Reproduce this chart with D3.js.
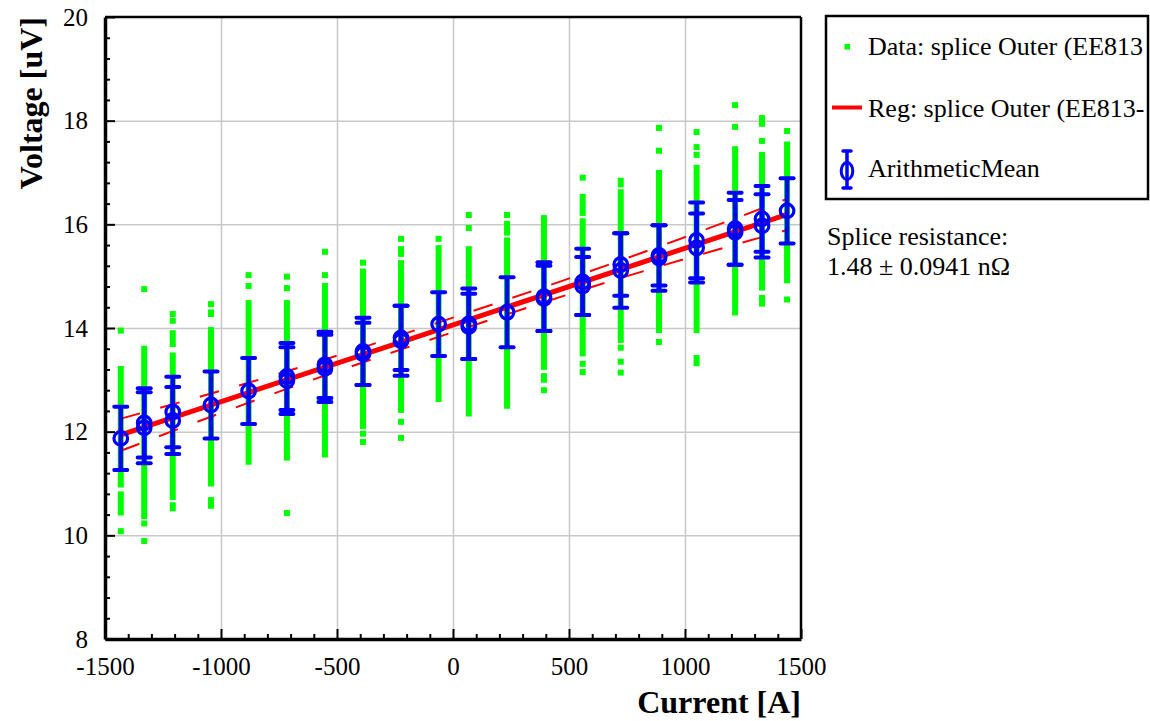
<!DOCTYPE html>
<html>
<head>
<meta charset="utf-8">
<script src="https://d3js.org/d3.v7.min.js"></script>
<style>
  body { margin: 0; background: #fff; }
  svg { display: block; }
  svg text { font-family: "Liberation Serif", "Times New Roman", Times, serif; }
</style>
</head>
<body>
<svg id="chart" width="1150" height="721"></svg>
<script>
// current setpoints of the green data columns [A]
const currents = [-1432, -1331, -1208, -1043, -881, -716, -552, -388, -224, -62,
                  68, 233, 392, 559, 723, 888, 1050, 1216, 1332, 1440];

// green data: runs of stacked points per column, [top, bottom] in uV
const greenRuns = [
  [[13.95, 13.95], [13.21, 10.98], [10.79, 10.44], [10.08, 10.08]],
  [[14.75, 14.75], [13.60, 10.37], [10.23, 10.23], [9.89, 9.89]],
  [[14.27, 14.27], [14.14, 14.14], [13.90, 13.69], [13.47, 10.74], [10.58, 10.52]],
  [[14.46, 14.46], [14.30, 14.27], [13.96, 11.00], [10.68, 10.57]],
  [[15.02, 15.02], [14.81, 14.81], [14.48, 11.42]],
  [[14.99, 14.99], [14.77, 14.77], [14.48, 11.50], [10.43, 10.43]],
  [[15.47, 15.47], [15.02, 15.02], [14.81, 11.56]],
  [[15.26, 15.26], [15.09, 12.11], [11.96, 11.96], [11.80, 11.80]],
  [[15.72, 15.72], [15.52, 15.43], [15.25, 12.42], [12.19, 12.19], [11.88, 11.88]],
  [[15.72, 15.72], [15.54, 12.63]],
  [[16.18, 16.18], [15.93, 15.93], [15.52, 12.35]],
  [[16.18, 16.18], [16.01, 15.84], [15.69, 12.50]],
  [[16.12, 13.25], [13.07, 13.00], [12.80, 12.80]],
  [[16.90, 16.90], [16.53, 16.22], [16.06, 13.51], [13.31, 13.31], [13.15, 13.15]],
  [[16.84, 16.77], [16.62, 13.77], [13.62, 13.62], [13.35, 13.35], [13.14, 13.14]],
  [[17.86, 17.86], [17.42, 17.42], [16.99, 13.96], [13.73, 13.73]],
  [[17.78, 17.78], [17.49, 17.49], [17.34, 17.34], [17.09, 13.96], [13.42, 13.32]],
  [[18.30, 18.30], [17.88, 17.88], [17.45, 14.30]],
  [[18.05, 17.94], [17.61, 17.61], [17.34, 14.78], [14.58, 14.47]],
  [[17.80, 17.80], [17.54, 14.92], [14.55, 14.55]]
];

// arithmetic means with error
const meanCurrent = [-1432, -1331, -1331, -1208, -1208, -1043, -881, -716, -716, -552,
                     -552, -388, -388, -224, -224, -62, 68, 68, 233, 392,
                     392, 559, 559, 723, 723, 888, 888, 1050, 1050, 1216,
                     1216, 1332, 1332, 1440];
const meanVoltage = [11.87, 12.17, 12.075, 12.38, 12.215, 12.515, 12.785, 13.065, 12.985, 13.29,
                     13.22, 13.55, 13.50, 13.81, 13.755, 14.075, 14.08, 14.03, 14.305, 14.605,
                     14.57, 14.89, 14.81, 15.225, 15.11, 15.40, 15.35, 15.69, 15.545, 15.915,
                     15.845, 16.105, 15.97, 16.26];
const meanError = [0.61, 0.67, 0.685, 0.68, 0.645, 0.645, 0.635, 0.645, 0.645, 0.64,
                   0.65, 0.65, 0.60, 0.62, 0.675, 0.615, 0.68, 0.63, 0.675, 0.665,
                   0.63, 0.64, 0.56, 0.605, 0.72, 0.58, 0.63, 0.73, 0.665, 0.695,
                   0.625, 0.635, 0.61, 0.63];

// regression line and its band
const regCurrent = [-1432, 1440];
const regVoltage = [11.94, 16.19];
const bandCurrent = [-1432, -720, 0, 720, 1440];
const bandUpper = [12.25, 13.16, 14.20, 15.30, 16.49];
const bandLower = [11.63, 12.82, 13.92, 14.96, 15.89];

// axis ticks
const xMajor = [-1500, -1000, -500, 0, 500, 1000, 1500];
const yMajor = [8, 10, 12, 14, 16, 18, 20];

const svg = d3.select("#chart");

const pLeft = 105, pRight = 801, pTop = 17, pBottom = 639;

const x = d3.scaleLinear().domain([-1500, 1500]).range([pLeft, pRight]);
const y = d3.scaleLinear().domain([8, 20]).range([pBottom, pTop]);

// grid
svg.append("g")
    .attr("transform", "translate(0," + pBottom + ")")
    .call(d3.axisBottom(x).tickValues(xMajor.slice(1, -1)).tickSize(-(pBottom - pTop)).tickFormat(""))
    .call(g => g.select(".domain").remove())
    .selectAll("line").attr("stroke", "#c8c8c8").attr("stroke-width", 1.5);

svg.append("g")
    .attr("transform", "translate(" + pLeft + ",0)")
    .call(d3.axisLeft(y).tickValues(yMajor.slice(1, -1)).tickSize(-(pRight - pLeft)).tickFormat(""))
    .call(g => g.select(".domain").remove())
    .selectAll("line").attr("stroke", "#c8c8c8").attr("stroke-width", 1.5);

// green data
const dataG = svg.append("g");
currents.forEach((c, i) => {
    dataG.selectAll(null)
        .data(greenRuns[i])
        .enter()
        .append("rect")
        .attr("x", x(c) - 3)
        .attr("y", d => y(d[0]) - 3)
        .attr("width", 6)
        .attr("height", d => y(d[1]) - y(d[0]) + 6)
        .attr("fill", "#00ff00");
});

// regression
const regLine = d3.line().x((d, i) => x(regCurrent[i])).y(d => y(d));
svg.append("path")
    .attr("d", regLine(regVoltage))
    .attr("stroke", "#ff0000")
    .attr("stroke-width", 5)
    .attr("fill", "none");

const bandLine = d3.line()
    .x((d, i) => x(bandCurrent[i]))
    .y(d => y(d))
    .curve(d3.curveNatural);

[bandUpper, bandLower].forEach(b => {
    svg.append("path")
        .attr("d", bandLine(b))
        .attr("stroke", "#ff0000")
        .attr("stroke-width", 2)
        .attr("stroke-dasharray", "20,21")
        .attr("fill", "none");
});

// means
const blue = "#0000ff";
const meanG = svg.append("g")
    .selectAll("g")
    .data(meanVoltage)
    .enter()
    .append("g")
    .attr("transform", (d, i) => "translate(" + x(meanCurrent[i]) + ",0)");

meanG.append("line")
    .attr("y1", (d, i) => y(d + meanError[i]))
    .attr("y2", (d, i) => y(d - meanError[i]))
    .attr("stroke", blue).attr("stroke-width", 4.5);

meanG.append("line")
    .attr("x1", -6.5).attr("x2", 6.5)
    .attr("y1", (d, i) => y(d + meanError[i]))
    .attr("y2", (d, i) => y(d + meanError[i]))
    .attr("stroke", blue).attr("stroke-width", 4).attr("stroke-linecap", "round");

meanG.append("line")
    .attr("x1", -6.5).attr("x2", 6.5)
    .attr("y1", (d, i) => y(d - meanError[i]))
    .attr("y2", (d, i) => y(d - meanError[i]))
    .attr("stroke", blue).attr("stroke-width", 4).attr("stroke-linecap", "round");

meanG.append("circle")
    .attr("cy", d => y(d))
    .attr("r", 6.8)
    .attr("fill", "none")
    .attr("stroke", blue).attr("stroke-width", 3.2);

// axes
const xMinor = d3.range(-1400, 1500, 100).filter(v => v % 500 !== 0);
const yMinor = d3.range(8.4, 20, 0.4).filter(v => Math.abs(v / 2 - Math.round(v / 2)) > 0.01);

svg.append("g")
    .attr("transform", "translate(0," + pBottom + ")")
    .call(d3.axisBottom(x).tickValues(xMinor).tickSize(-5).tickSizeOuter(0).tickFormat(""))
    .call(g => g.select(".domain").remove())
    .selectAll("line").attr("stroke", "#000").attr("stroke-width", 2);

svg.append("g")
    .attr("transform", "translate(" + pLeft + ",0)")
    .call(d3.axisLeft(y).tickValues(yMinor).tickSize(-5).tickSizeOuter(0).tickFormat(""))
    .call(g => g.select(".domain").remove())
    .selectAll("line").attr("stroke", "#000").attr("stroke-width", 2);

const xAxis = svg.append("g")
    .attr("transform", "translate(0," + pBottom + ")")
    .call(d3.axisBottom(x).tickValues(xMajor).tickSize(-10).tickSizeOuter(0)
        .tickPadding(18).tickFormat(d => String(d)))
    .attr("font-family", null).attr("font-size", 25);
xAxis.select(".domain").attr("stroke-width", 3.5);
xAxis.selectAll("line").attr("stroke-width", 2);
xAxis.selectAll("text").attr("fill", "#000");

const yAxis = svg.append("g")
    .attr("transform", "translate(" + pLeft + ",0)")
    .call(d3.axisLeft(y).tickValues(yMajor).tickSize(-10).tickSizeOuter(0)
        .tickPadding(17).tickFormat(d => String(d)))
    .attr("font-family", null).attr("font-size", 25);
yAxis.select(".domain").attr("stroke-width", 3.5);
yAxis.selectAll("line").attr("stroke-width", 2);
yAxis.selectAll("text").attr("fill", "#000");

// frame top and right
svg.append("line").attr("x1", pLeft).attr("x2", pRight).attr("y1", pTop).attr("y2", pTop)
    .attr("stroke", "#000").attr("stroke-width", 2.5);
svg.append("line").attr("x1", pRight).attr("x2", pRight).attr("y1", pTop).attr("y2", pBottom)
    .attr("stroke", "#000").attr("stroke-width", 2.5);

// axis titles
svg.append("text")
    .attr("x", pRight).attr("y", 713)
    .attr("text-anchor", "end")
    .attr("font-size", 32).attr("font-weight", "bold")
    .text("Current [A]");

svg.append("text")
    .attr("transform", "translate(42," + pTop + ") rotate(-90)")
    .attr("text-anchor", "end")
    .attr("font-size", 32).attr("font-weight", "bold")
    .text("Voltage [uV]");

// legend
svg.append("rect")
    .attr("x", 826).attr("y", 16).attr("width", 322).attr("height", 183)
    .attr("fill", "#fff").attr("stroke", "#000").attr("stroke-width", 2.5);

const leg = svg.append("g");

leg.append("rect").attr("x", 844.5).attr("y", 44).attr("width", 5.5).attr("height", 5.5).attr("fill", "#00ff00");
leg.append("text").attr("x", 868).attr("y", 55).attr("font-size", 26).text("Data: splice Outer (EE813");

leg.append("line").attr("x1", 832).attr("x2", 862).attr("y1", 107.5).attr("y2", 107.5)
    .attr("stroke", "#ff0000").attr("stroke-width", 4);
leg.append("text").attr("x", 868).attr("y", 117).attr("font-size", 26).text("Reg: splice Outer (EE813-");

leg.append("line").attr("x1", 847).attr("x2", 847).attr("y1", 151).attr("y2", 188)
    .attr("stroke", blue).attr("stroke-width", 3.5);
leg.append("line").attr("x1", 843).attr("x2", 851).attr("y1", 151).attr("y2", 151)
    .attr("stroke", blue).attr("stroke-width", 3.5).attr("stroke-linecap", "round");
leg.append("line").attr("x1", 843).attr("x2", 851).attr("y1", 188).attr("y2", 188)
    .attr("stroke", blue).attr("stroke-width", 3.5).attr("stroke-linecap", "round");
leg.append("ellipse").attr("cx", 847).attr("cy", 171).attr("rx", 5.8).attr("ry", 8.5)
    .attr("fill", "none").attr("stroke", blue).attr("stroke-width", 3);
leg.append("text").attr("x", 868).attr("y", 177).attr("font-size", 26).text("ArithmeticMean");

// annotation
svg.append("text").attr("x", 827).attr("y", 245).attr("font-size", 26).text("Splice resistance:");
svg.append("text").attr("x", 827).attr("y", 275).attr("font-size", 26).text("1.48 \u00b1 0.0941 n\u03a9");
</script>
</body>
</html>
